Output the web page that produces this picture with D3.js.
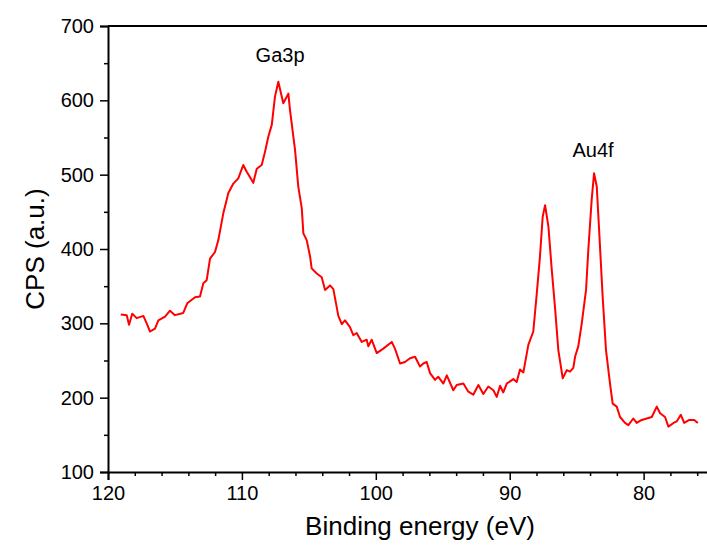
<!DOCTYPE html>
<html>
<head>
<meta charset="utf-8">
<script src="https://cdn.jsdelivr.net/npm/d3@7/dist/d3.min.js"></script>
<style>
  html, body { margin: 0; padding: 0; background: #fff; }
  svg { display: block; }
  text { font-family: "Liberation Sans", Arial, sans-serif; fill: #000; }
</style>
</head>
<body>
<svg id="chart" width="707" height="545"></svg>
<script>
// Binding energy (eV) and CPS values
const energy = [119.05,118.60,118.43,118.19,117.86,117.36,117.11,116.86,116.49,116.24,115.74,115.37,115.00,114.38,114.08,113.50,113.13,112.88,112.63,112.38,112.01,111.76,111.39,111.14,111.02,110.64,110.27,109.90,109.64,109.15,108.89,108.52,108.27,108.03,107.77,107.53,107.28,106.91,106.53,106.41,106.03,105.79,105.53,105.41,105.16,104.91,104.79,104.41,104.04,103.79,103.42,103.17,102.80,102.54,102.30,101.93,101.68,101.43,101.05,100.68,100.56,100.31,99.93,99.44,98.81,98.57,98.19,97.82,97.45,97.07,96.70,96.45,96.20,95.95,95.58,95.33,94.96,94.70,94.21,93.96,93.46,93.09,92.72,92.34,91.97,91.60,91.22,90.97,90.72,90.48,90.22,89.73,89.48,89.23,88.98,88.61,88.24,87.98,87.74,87.54,87.36,87.11,86.86,86.62,86.37,86.04,85.74,85.50,85.25,85.12,84.88,84.62,84.30,84.13,83.88,83.70,83.50,83.31,83.06,82.81,82.51,82.31,82.01,81.76,81.39,81.14,80.77,80.52,80.14,79.77,79.39,79.02,78.77,78.40,78.15,77.77,77.53,77.22,76.97,76.59,76.22,75.95];
const cps = [312,311,298,313,307,310,300,289,293,304,309,317,311,314,327,335,336,354,358,387,396,412,448,466,475,488,495,513,504,489,508,513,531,551,567,605,625,596,609,587,533,484,455,421,412,390,374,367,362,345,351,346,310,299,304,295,284,287,275,278,269,278,260,266,275,266,246,248,253,255,242,246,248,233,224,228,219,230,210,217,219,208,204,217,205,215,210,201,216,207,219,225,221,238,234,271,289,340,390,443,459,430,372,322,264,226,237,235,240,255,269,300,345,399,466,502,484,421,336,264,219,192,188,174,166,163,172,166,170,172,174,188,179,174,161,166,168,177,166,170,170,166];

const xTicks = [120,110,100,90,80];
const yTicks = [100,200,300,400,500,600,700];
const peakLabels = ["Ga3p","Au4f"];
const peakLabelE = [107.15,83.78];
const peakLabelV = [651,524];

const svg = d3.select("#chart");
const mLeft = 108, mTop = 26, mRight = 732, mBottom = 472;

const x = d3.scaleLinear().domain([120, 73.4]).range([mLeft, mRight]);
const y = d3.scaleLinear().domain([100, 700]).range([mBottom, mTop]);

svg.append("rect").attr("width",707).attr("height",545).attr("fill","#fff");

// minor ticks
const xMinor = d3.range(120, 73, -2).filter(v => v % 10 !== 0);
const yMinor = d3.range(150, 700, 100);

function styleAxis(g) {
  g.selectAll("line").attr("stroke","#000").attr("stroke-width",1.5);
  g.selectAll("text").attr("font-size","20px").attr("font-family","Liberation Sans, Arial, sans-serif").attr("fill","#000");
}

const gx = svg.append("g").attr("transform",`translate(0,${mBottom})`);
gx.call(d3.axisBottom(x).tickValues(xMinor).tickSize(4).tickFormat(""));
gx.selectAll(".domain").remove();
styleAxis(gx);
const gx2 = svg.append("g").attr("transform",`translate(0,${mBottom})`);
gx2.call(d3.axisBottom(x).tickValues(xTicks).tickSize(8).tickPadding(6).tickFormat(d3.format("d")));
styleAxis(gx2);
gx2.select(".domain").attr("stroke","#000").attr("stroke-width",2);

const gy = svg.append("g").attr("transform",`translate(${mLeft},0)`);
gy.call(d3.axisLeft(y).tickValues(yMinor).tickSize(4).tickFormat(""));
gy.selectAll(".domain").remove();
styleAxis(gy);
const gy2 = svg.append("g").attr("transform",`translate(${mLeft},0)`);
gy2.call(d3.axisLeft(y).tickValues(yTicks).tickSize(8).tickPadding(6).tickFormat(d3.format("d")));
styleAxis(gy2);
gy2.select(".domain").attr("stroke","#000").attr("stroke-width",2);

// top frame line
svg.append("line").attr("x1",mLeft).attr("x2",mRight).attr("y1",mTop).attr("y2",mTop)
  .attr("stroke","#000").attr("stroke-width",2);

// data line
const data = energy.map((e,i) => [e, cps[i]]);
svg.append("path").datum(data)
  .attr("fill","none").attr("stroke","#ff0000").attr("stroke-width",2)
  .attr("stroke-linejoin","round")
  .attr("d", d3.line().x(d => x(d[0])).y(d => y(d[1])));

// peak labels
peakLabels.forEach((t,i) => {
  svg.append("text").attr("x", x(peakLabelE[i])).attr("y", y(peakLabelV[i]))
    .attr("text-anchor","middle").attr("font-size","20px").text(t);
});

// axis titles
svg.append("text").attr("x",(mLeft+mRight)/2).attr("y",535)
  .attr("text-anchor","middle").attr("font-size","26px").text("Binding energy (eV)");
svg.append("text").attr("transform",`translate(44,${(mTop+mBottom)/2}) rotate(-90)`)
  .attr("text-anchor","middle").attr("font-size","26px").text("CPS (a.u.)");
</script>
</body>
</html>
